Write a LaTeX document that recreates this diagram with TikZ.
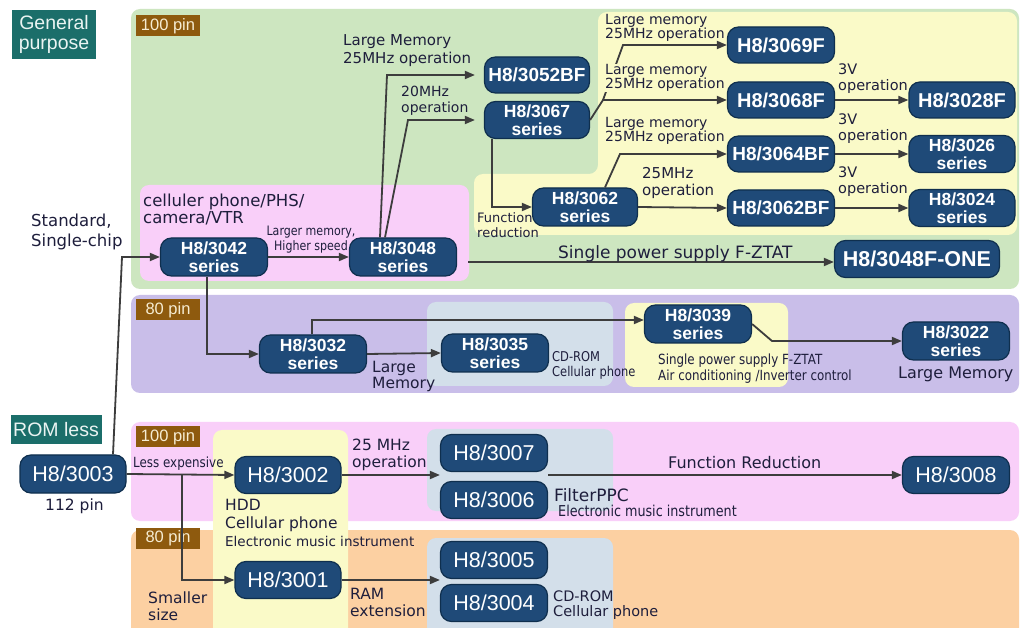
\documentclass[tikz,border=0pt]{standalone}
\usepackage{fontspec}
\setmainfont{Liberation Sans}
\newfontfamily\lblfam{DejaVu Sans}
\newfontfamily\condfam[FakeStretch=0.85]{DejaVu Sans}
\usetikzlibrary{arrows.meta,calc}
\definecolor{bggreen}{HTML}{CDE6C0}
\definecolor{bgyellow}{HTML}{FAFAC8}
\definecolor{bgpink}{HTML}{F9CFF9}
\definecolor{bgpurple}{HTML}{C9BEE9}
\definecolor{bgblue}{HTML}{D3DFEA}
\definecolor{bgorange}{HTML}{FCD0A2}
\definecolor{titleteal}{HTML}{1B6E6A}
\definecolor{titletext}{HTML}{EAF4F2}
\definecolor{pinbrown}{HTML}{8E5A0E}
\definecolor{pintext}{HTML}{F6ECD2}
\definecolor{chipfill}{HTML}{1F4A78}
\definecolor{chipedge}{HTML}{0F2F4E}
\definecolor{arrowc}{HTML}{3D3D3D}
\definecolor{lbltext}{HTML}{1E1E3C}
\newcommand\myfs[2]{\fontsize{#1}{#2}\selectfont}
\tikzset{
  chip/.style={rounded corners=11pt, fill=chipfill, draw=chipedge, line width=1.2pt,
    text=white, inner sep=0pt, minimum height=36pt, minimum width=106pt,
    font=\bfseries\myfs{20}{22}},
  chiptwo/.style={chip, align=center, minimum height=37pt, font=\bfseries\myfs{17.5}{17.5}},
  chiprom/.style={chip, font=\myfs{21.5}{24}},
  lbl/.style={text=lbltext, inner sep=0pt, anchor=north west, align=left, font=\lblfam\myfs{15}{17}},
  cond/.style={lbl, font=\condfam\myfs{13.5}{15}},
  conn/.style={draw=arrowc, line width=1.8pt, -{Triangle[length=10pt,width=8pt]}},
  region/.style={rounded corners=9pt},
  pinbox/.style={fill=pinbrown, text=pintext, inner sep=0pt, minimum width=64pt,
    minimum height=21pt, font=\myfs{16.5}{18}},
  titlebox/.style={fill=titleteal, text=titletext, inner sep=0pt, align=center,
    font=\myfs{19.5}{19.5}},
}
\begin{document}
\begin{tikzpicture}[x=1pt,y=-1pt]
\useasboundingbox (0,0) rectangle (1021,628);
\clip (0,0) rectangle (1021,628);
\fill[white] (0,0) rectangle (1021,628);

% ---- regions
\fill[bggreen, region] (131,9) rectangle (1019,289);
\fill[bgyellow, rounded corners=9pt] (800,12) -- (1017,12) -- (1017,235) -- (474,235) -- (474,174) -- (598,174) -- (598,12) -- cycle;
\fill[bgpink, region] (140,185) rectangle (469,281);
\fill[bgpurple, region] (131,295) rectangle (1019,393);
\fill[bgblue, region] (427,302) rectangle (613,386);
\fill[bgyellow, region] (625,303) rectangle (788,387);
\fill[bgpink, region] (131,422) rectangle (1019,521);
\fill[bgorange, region] (131,530) rectangle (1019,645);
\fill[bgyellow, region] (213,430) rectangle (348,645);
\fill[bgblue, region] (427,429) rectangle (613,511);
\fill[bgblue, region] (427,538) rectangle (613,645);

% ---- titles and pin tags
\node[titlebox, minimum width=84pt, minimum height=49pt] (tgen) at (54,34.5) {General\\purpose};
\node[titlebox, minimum width=91pt, minimum height=29pt] (trom) at (56,430) {ROM less};
\node[pinbox] (p100a) at (168,26) {100 pin};
\node[pinbox] (p80a) at (168,310) {80 pin};
\node[pinbox] (p100b) at (168,437) {100 pin};
\node[pinbox] (p80b) at (168,538) {80 pin};

% ---- chips
\node[chip, minimum width=105pt, font=\bfseries\myfs{19}{22}] (n3052) at (537,75) {H8/3052BF};
\node[chiptwo, minimum width=105pt] (n3067) at (537,120) {H8/3067\\series};
\node[chip, minimum width=107pt] (n3069) at (781,45) {H8/3069F};
\node[chip, minimum width=107pt] (n3068) at (781,100) {H8/3068F};
\node[chip] (n3028) at (962,100) {H8/3028F};
\node[chip, minimum width=107pt, font=\bfseries\myfs{19}{22}] (n3064) at (781,154) {H8/3064BF};
\node[chiptwo] (n3026) at (962,154) {H8/3026\\series};
\node[chip, minimum width=107pt, font=\bfseries\myfs{19}{22}] (n3062bf) at (781,208) {H8/3062BF};
\node[chiptwo] (n3024) at (962,208) {H8/3024\\series};
\node[chiptwo, minimum width=105pt, minimum height=38pt] (n3062) at (585,207) {H8/3062\\series};
\node[chiptwo, minimum width=107pt, minimum height=38pt] (n3042) at (214,257) {H8/3042\\series};
\node[chiptwo, minimum width=107pt, minimum height=38pt] (n3048) at (403,257) {H8/3048\\series};
\node[chip, minimum width=165pt, minimum height=37pt, font=\bfseries\myfs{21.5}{24}] (n3048f) at (917,259) {H8/3048F-ONE};
\node[chiptwo, minimum width=107pt, minimum height=38pt] (n3032) at (313,354) {H8/3032\\series};
\node[chiptwo, minimum width=107pt, minimum height=38pt] (n3035) at (495,353) {H8/3035\\series};
\node[chiptwo, minimum width=107pt, minimum height=38pt] (n3039) at (698,324) {H8/3039\\series};
\node[chiptwo, minimum width=107pt, minimum height=38pt] (n3022) at (956,341) {H8/3022\\series};
\node[chiprom, minimum height=38pt] (n3003) at (73,474) {H8/3003};
\node[chiprom, minimum height=37pt] (n3002) at (288,475) {H8/3002};
\node[chiprom, minimum height=37pt] (n3001) at (288,580) {H8/3001};
\node[chiprom, minimum width=107pt, minimum height=37pt] (n3007) at (494,453) {H8/3007};
\node[chiprom, minimum width=107pt, minimum height=37pt] (n3006) at (494,500) {H8/3006};
\node[chiprom, minimum width=107pt, minimum height=37pt] (n3005) at (494,560) {H8/3005};
\node[chiprom, minimum width=107pt, minimum height=37pt] (n3004) at (494,603) {H8/3004};
\node[chiprom, minimum width=107pt, minimum height=37pt] (n3008) at (956,475) {H8/3008};

% ---- bend coordinates
\coordinate (b1) at (122,257);
\coordinate (b3) at (207,354);
\coordinate (b4) at (387,75);
\coordinate (b4b) at (408,120);
\coordinate (b5) at (492,207);
\coordinate (f6) at (603,100);
\coordinate (b6) at (623,45);
\coordinate (b7) at (620,154);
\coordinate (s12) at (468,262);
\coordinate (b13) at (312,320);
\coordinate (b15) at (772,341);
\coordinate (b17a) at (182,475);
\coordinate (b17) at (182,580);

% ---- connectors
\draw[conn] ($(n3003.north)+(40,0)$) -- (b1) -- (n3042.west);
\draw[conn] (n3042.east) -- (n3048.west);
\draw[conn] (n3042.south -| b3) -- (b3) -- (n3032.west);
\draw[conn, shorten >=9pt] ($(n3048.north)+(-23,0)$) -- (b4) -- (n3052.west);
\draw[conn, shorten >=9pt] ($(n3048.north)+(-18,0)$) -- (b4b) -- (n3067.west);
\draw[conn] (n3067.south -| b5) -- (b5) -- (n3062.west);
\draw[conn] (n3067.east) -- (f6) -- (n3068.west);
\draw[conn] (f6) -- (b6) -- (n3069.west);
\draw[conn] ($(n3062.north)+(20,0)$) -- (b7) -- (n3064.west);
\draw[conn] (n3062.east) -- (n3062bf.west);
\draw[conn] (n3068.east) -- (n3028.west);
\draw[conn] (n3064.east) -- (n3026.west);
\draw[conn] (n3062bf.east) -- (n3024.west);
\draw[conn, shorten <=11pt] (n3048.east |- s12) -- (n3048f.west |- s12);
\draw[conn] (n3032.north -| b13) -- (b13) -- (n3039.west |- b13);
\draw[conn] (n3032.east) -- (n3035.west);
\draw[conn] (n3039.east) -- (b15) -- (n3022.west);
\draw[conn] (n3003.east) -- (n3002.west);
\draw[conn] (b17a) -- (b17) -- (n3001.west);
\draw[conn] (n3002.east) -- (n3002.east -| n3007.west);
\draw[conn] (n3001.east) -- (n3001.east -| n3005.west);
\draw[conn] (n3002.east -| n3007.east) -- (n3008.west);

% ---- labels
\node[lbl, font=\lblfam\myfs{15}{18}] (Llm) at (343,34) {Large Memory\\25MHz operation};
\node[lbl, font=\lblfam\myfs{14}{16}] (L20) at (401,86) {20MHz\\operation};
\node[lbl, font=\lblfam\myfs{14}{14.5}] (La) at (605,14) {Large memory\\25MHz operation};
\node[lbl, font=\lblfam\myfs{14}{14.5}, fill=bgyellow] (Lb) at (605,64) {Large memory\\25MHz operation};
\node[lbl, font=\lblfam\myfs{14}{14.5}] (Lc) at (605,117) {Large memory\\25MHz operation};
\node[lbl, font=\lblfam\myfs{15}{17}] (L25) at (642,167) {25MHz\\operation};
\node[lbl, font=\lblfam\myfs{14.5}{16}] (L3a) at (838,64) {3V\\operation};
\node[lbl, font=\lblfam\myfs{14.5}{16}] (L3b) at (838,114) {3V\\operation};
\node[lbl, font=\lblfam\myfs{14.5}{16}] (L3c) at (838,167) {3V\\operation};
\node[lbl, font=\lblfam\myfs{13}{15}] (Lfunc) at (477,212) {Function\\reduction};
\node[lbl, align=center, anchor=north, font=\condfam\myfs{13}{14.5}] (Llarger) at (311,226) {Larger memory,\\Higher speed};
\node[lbl, font=\lblfam\myfs{17}{19}] (Lsps) at (558,245) {Single power supply F-ZTAT};
\node[lbl, font=\lblfam\myfs{16.5}{17}] (Lcell) at (143,194) {celluler phone/PHS/\\camera/VTR};
\node[lbl, font=\lblfam\myfs{16.5}{20}] (Lstd) at (31,214) {Standard,\\Single-chip};
\node[lbl, font=\lblfam\myfs{15.5}{16.5}] (Llarge) at (372,361) {Large\\Memory};
\node[cond, font=\condfam\myfs{13.5}{15}] (Lcd1) at (552,351) {CD-ROM\\Cellular phone};
\node[cond, font=\condfam\myfs{14}{15.5}] (Lsps2) at (658,354) {Single power supply F-ZTAT\\Air conditioning /Inverter control};
\node[lbl, font=\lblfam\myfs{16}{18}] (Llm2) at (898,367) {Large Memory};
\node[cond, font=\condfam\myfs{14}{16}] (Lless) at (133,457) {Less expensive};
\node[lbl, font=\lblfam\myfs{15.5}{17}] (L112) at (45,499) {112 pin};
\node[lbl, font=\lblfam\myfs{15.5}{17}] (Lsmall) at (148,592) {Smaller\\size};
\node[lbl, font=\lblfam\myfs{15.5}{18}] (Lhdd) at (225,499) {HDD\\Cellular phone\\{\myfs{13.5}{18}Electronic music instrument}};
\node[lbl, font=\lblfam\myfs{17}{19}] (Lfilter) at (554,488) {FilterPPC};
\node[cond, font=\condfam\myfs{15}{17}] (Lemi) at (558,505) {Electronic music instrument};
\node[lbl, font=\lblfam\myfs{15.5}{17}] (L25b) at (352,439) {25 MHz\\operation};
\node[lbl, font=\lblfam\myfs{15.5}{17}] (Lram) at (350,588) {RAM\\extension};
\node[lbl, font=\lblfam\myfs{14.5}{15}] (Lcd2) at (553,591) {CD-ROM\\Cellular phone};
\node[lbl, font=\lblfam\myfs{16}{18}] (Lfr) at (668,456) {Function Reduction};
\end{tikzpicture}
\end{document}
